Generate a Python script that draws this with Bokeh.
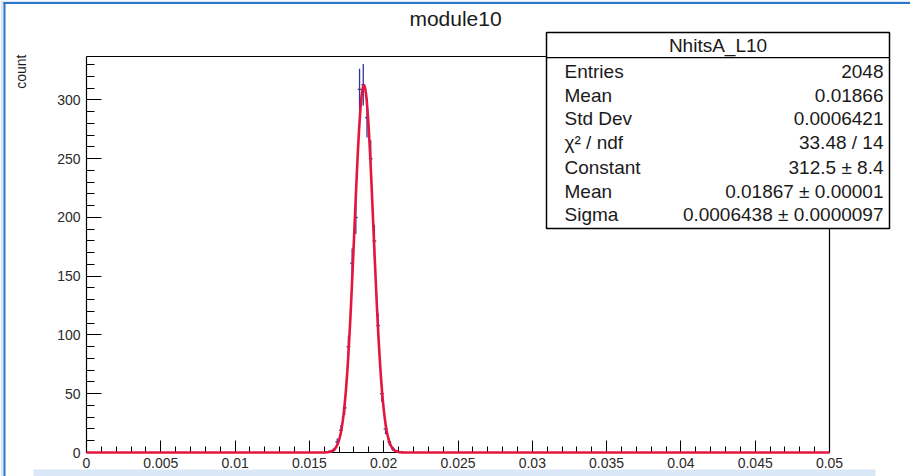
import numpy as np
from bokeh.plotting import figure
from bokeh.models import (Range1d, FixedTicker, BoxAnnotation, Label,
                          ColumnDataSource, CustomJSTickFormatter, LinearAxis)
from bokeh.embed import file_html
from bokeh.resources import INLINE

# ---------------------------------------------------------------
# Histogram NhitsA_L10: 200 bins on [0, 0.05], only non-empty bins
# ---------------------------------------------------------------
bin_width = 0.00025
bin_centers = [0.016375, 0.016625, 0.016875, 0.017125, 0.017375, 0.017625,
               0.017875, 0.018125, 0.018375, 0.018625, 0.018875, 0.019125,
               0.019375, 0.019625, 0.019875, 0.020125, 0.020375, 0.020625,
               0.020875]
bin_counts = [1, 2, 9, 19, 38, 90, 161, 200, 309, 313, 285, 250, 180, 108,
              50, 20, 9, 3, 1]

# Gaussian fit result
fit_constant = 312.5
fit_mean = 0.01867
fit_sigma = 0.0006438

plot_title = "module10"
hist_name = "NhitsA_L10"
y_title = "count"
stat_names = ["Entries", "Mean", "Std Dev", "\u03c7\u00b2 / ndf", "Constant",
              "Mean", "Sigma"]
stat_values = ["2048", "0.01866", "0.0006421", "33.48 / 14",
               "312.5 \u00b1 8.4", "0.01867 \u00b1 0.00001",
               "0.0006438 \u00b1 0.0000097"]

x_lo, x_hi = 0.0, 0.05
y_lo, y_hi = 0.0, 337.0
x_ticks = [0, 0.005, 0.01, 0.015, 0.02, 0.025, 0.03, 0.035, 0.04, 0.045, 0.05]
x_tick_labels = ["0", "0.005", "0.01", "0.015", "0.02", "0.025", "0.03",
                 "0.035", "0.04", "0.045", "0.05"]
y_ticks = [0, 50, 100, 150, 200, 250, 300]
y_tick_labels = ["0", "50", "100", "150", "200", "250", "300"]

# ---------------------------------------------------------------
# The Bokeh frame spans the whole canvas; the histogram pad sits
# inside it at these pixel edges, so the ranges are widened to suit.
# ---------------------------------------------------------------
W, H = 910, 476
PAD_L, PAD_R, PAD_T, PAD_B = 86, 829, 56, 452
FONT = "Liberation Sans"
INK = "#1a1a1a"

sx = (x_hi - x_lo) / (PAD_R - PAD_L)
sy = (y_hi - y_lo) / (PAD_B - PAD_T)
x_range = Range1d(x_lo - PAD_L * sx, x_hi + (W - PAD_R) * sx)
y_range = Range1d(y_lo - (H - PAD_B) * sy, y_hi + PAD_T * sy)

p = figure(width=W, height=H, title=None, x_range=x_range, y_range=y_range,
           min_border=0, x_axis_type=None, y_axis_type=None,
           output_backend="svg", toolbar_location=None)
p.background_fill_color = "white"
p.border_fill_color = "white"
p.outline_line_color = None
p.grid.visible = False

label_js = """
for (let i = 0; i < tick_values.length; i++) {
    if (Math.abs(tick - tick_values[i]) < 1e-9) { return tick_texts[i]; }
}
return "";
"""

xa = LinearAxis(fixed_location=y_lo, bounds=(x_lo, x_hi),
                ticker=FixedTicker(ticks=x_ticks,
                                   minor_ticks=[i * 0.001 for i in range(51)]),
                formatter=CustomJSTickFormatter(
                    args=dict(tick_values=x_ticks, tick_texts=x_tick_labels),
                    code=label_js))
ya = LinearAxis(fixed_location=x_lo, bounds=(y_lo, y_hi),
                ticker=FixedTicker(ticks=y_ticks,
                                   minor_ticks=list(range(0, 337, 10))),
                formatter=CustomJSTickFormatter(
                    args=dict(tick_values=y_ticks, tick_texts=y_tick_labels),
                    code=label_js))
p.add_layout(xa, "below")
p.add_layout(ya, "left")

for ax in (xa, ya):
    ax.axis_line_color = "black"
    ax.axis_line_width = 1.2
    ax.major_tick_line_color = "black"
    ax.minor_tick_line_color = "black"
    ax.major_tick_out = 0
    ax.minor_tick_out = 0
    ax.major_label_text_font = FONT
    ax.major_label_text_font_size = "14px"
    ax.major_label_text_color = "#2a2a2a"
xa.major_tick_in = 12
xa.minor_tick_in = 6
ya.major_tick_in = 15
ya.minor_tick_in = 8
xa.major_label_standoff = 5
ya.major_label_standoff = 6

# top and right edges of the pad (no ticks)
for side, loc, bnds in (("above", y_hi, (x_lo, x_hi)),
                        ("right", x_hi, (y_lo, y_hi))):
    edge = LinearAxis(fixed_location=loc, bounds=bnds,
                      ticker=FixedTicker(ticks=[]),
                      major_label_text_font_size="0px",
                      major_tick_line_color=None, minor_tick_line_color=None,
                      axis_line_color="black", axis_line_width=1.2)
    p.add_layout(edge, side)

# error bars of the histogram (ROOT "E" style)
cx = np.array(bin_centers)
cy = np.array(bin_counts, dtype=float)
err = np.sqrt(cy)
src = ColumnDataSource(dict(x=cx, y=cy, lo=cy - err, hi=cy + err,
                            left=cx - bin_width / 2, right=cx + bin_width / 2))
p.segment(x0="x", y0="lo", x1="x", y1="hi", source=src,
          line_color="#333399", line_width=1.3, level="overlay")
p.segment(x0="left", y0="y", x1="right", y1="y", source=src,
          line_color="#333399", line_width=1.3, level="overlay")

# fitted gaussian drawn over the full axis range
xf = np.linspace(x_lo, x_hi, 1001)
yf = fit_constant * np.exp(-0.5 * ((xf - fit_mean) / fit_sigma) ** 2)
p.line(xf, yf, line_color="#e3173e", line_width=2.6, level="overlay")


# ---------------------------------------------------------------
# canvas decorations (pixel positions from the top-left corner)
# ---------------------------------------------------------------
def box(x0, y0, x1, y1, **kw):
    kw.setdefault("fill_alpha", 1)
    kw.setdefault("line_alpha", 1)
    p.add_layout(BoxAnnotation(
        left=x0, right=x1, top=y0, bottom=y1,
        left_units="canvas", right_units="canvas",
        top_units="canvas", bottom_units="canvas", **kw))


def text(x, y, s, size, align="left", baseline="middle", angle=0.0,
         color=INK):
    p.add_layout(Label(x=x, y=y, x_units="canvas", y_units="canvas",
                       text=s, text_font=FONT, text_font_size=f"{size}px",
                       text_align=align, text_baseline=baseline, angle=angle,
                       text_color=color))


LIGHT = "#dae7f7"
BLUE = "#2a74cc"
box(0, 0, W, 1.5, fill_color=LIGHT, line_color=None)
box(0, 0, 3, H, fill_color=LIGHT, line_color=None)
box(3, 1.5, W, 3.5, fill_color=BLUE, line_color=None)
box(3, 1.5, 5, H, fill_color=BLUE, line_color=None)
box(33, 469, 875, H, fill_color=LIGHT, line_color=None)

text(455, 18, plot_title, 21, align="center")
text(20, 54, y_title, 14, align="right", angle=np.pi / 2)

SB_L, SB_R, SB_T, SB_B = 546, 889, 32, 228
box(SB_L, SB_T, SB_R, SB_B, fill_color="white",
    line_color="black", line_width=1.5)
box(SB_L, 56.4, SB_R, 57.8, fill_color="black", line_color=None)
text((SB_L + SB_R) / 2, 45, hist_name, 19, align="center")
row_y = [71, 95, 118, 142, 167, 191, 214]
for yy, name, val in zip(row_y, stat_names, stat_values):
    text(564, yy, name, 19)
    text(883, yy, val, 19, align="right")

open("out.html", "w").write(file_html(p, INLINE))
